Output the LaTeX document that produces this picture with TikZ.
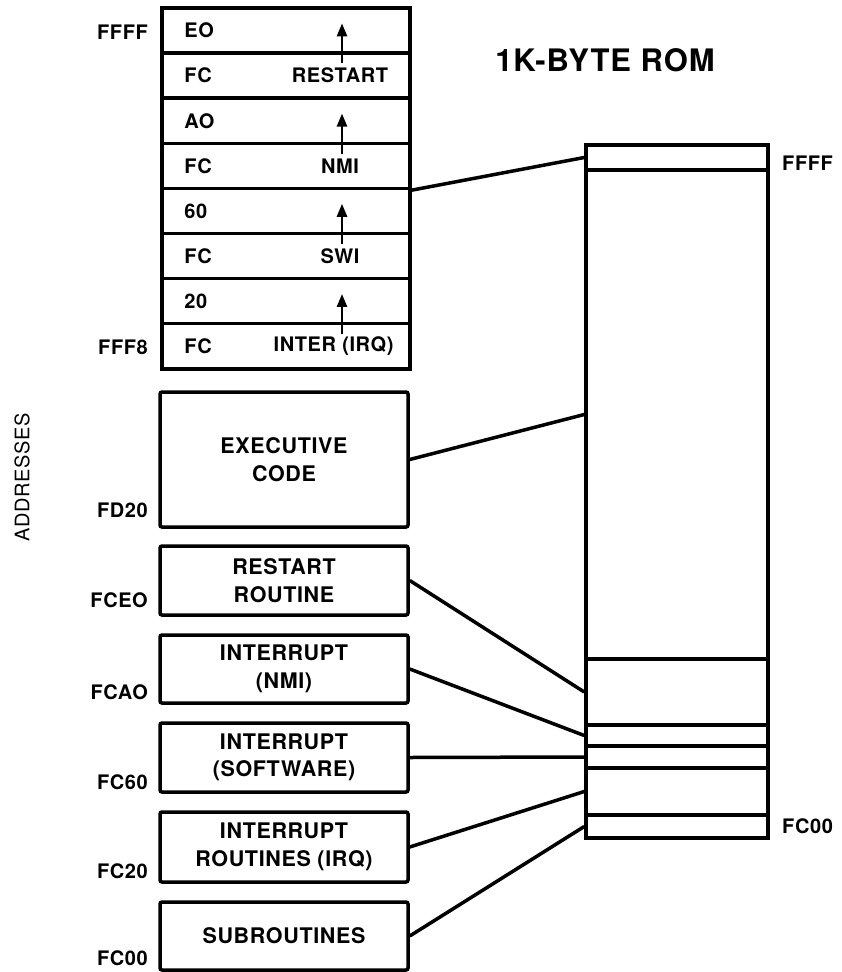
\documentclass[tikz,border=0pt]{standalone}
\usepackage{fontspec}
\setmainfont{TeX Gyre Heros}[LetterSpace=3]
\usetikzlibrary{arrows.meta,calc}

\begin{document}
\begin{tikzpicture}[x=1pt,y=-1pt,
  ln/.style={line width=3.5pt},
  cell/.style={draw, line width=3.5pt, minimum width=248pt, minimum height=45.1pt, inner sep=0pt},
  blk/.style={draw, line width=3.5pt, rounded corners=2pt, minimum width=248pt, align=center, inner sep=0pt, font=\bfseries\fontsize{21.5}{27.5}\selectfont},
  seg/.style={draw, line width=3.5pt, minimum width=182pt, inner sep=0pt},
  txt/.style={inner sep=0pt, font=\bfseries\fontsize{20}{22}\selectfont},
  adr/.style={inner sep=0pt, anchor=east, font=\bfseries\fontsize{20}{22}\selectfont},
  up/.style={line width=2.5pt, -{Triangle[length=13pt,width=10pt]}}
]
\useasboundingbox (0,0) rectangle (842,972);
\node[inner sep=0pt, font=\bfseries\fontsize{31}{36}\selectfont] (title) at (605,60) {1K-BYTE ROM};
\node[inner sep=0pt, rotate=90, font=\fontsize{20}{24}\selectfont] (addr) at (22,477) {ADDRESSES};
% vector table
\foreach \i/\v in {1/EO,2/FC,3/AO,4/FC,5/60,6/FC,7/20,8/FC}{
  \node[cell] (r\i) at (286,{8+45.1*(\i-0.5)}) {};
  \node[txt, anchor=west] (v\i) at ([xshift=24pt]r\i.west) {\v};
}
\node[txt] (n2) at ([xshift=54pt]r2.center) {RESTART};
\node[txt] (n4) at ([xshift=54pt]r4.center) {NMI};
\node[txt] (n6) at ([xshift=54pt]r6.center) {SWI};
\node[txt, anchor=east] (n8) at ([xshift=-18pt]r8.east) {INTER (IRQ)};
\foreach \i in {2,4,6,8} \draw[up] ([xshift=56pt,yshift=-12pt]r\i.north) -- ([xshift=56pt,yshift=28pt]r\i.north);
% program blocks
\node[blk, minimum height=135pt] (exe) at (284,459.5) {EXECUTIVE\\CODE};
\node[blk, minimum height=69pt] (rst) at (284,580.5) {RESTART\\ROUTINE};
\node[blk, minimum height=68pt] (nmi) at (284,669) {INTERRUPT\\(NMI)};
\node[blk, minimum height=69pt] (swi) at (284,757.5) {INTERRUPT\\(SOFTWARE)};
\node[blk, minimum height=70pt] (irq) at (284,847) {INTERRUPT\\ROUTINES (IRQ)};
\node[blk, minimum height=68pt] (sub) at (284,936) {SUBROUTINES};
% addresses
\node[adr] (aFFFF) at (148,32) {FFFF};
\node[adr] (aFFF8) at (148,347) {FFF8};
\node[adr] (aFD20) at (148,510) {FD20};
\node[adr] (aFCE0) at (148,600) {FCEO};
\node[adr] (aFCA0) at (148,692) {FCAO};
\node[adr] (aFC60) at (148,782) {FC60};
\node[adr] (aFC20) at (148,871) {FC20};
\node[adr] (aFC00) at (148,958) {FC00};
% rom map
\foreach \i/\c/\h in {1/157.5/25,2/414.5/489,3/692/66,4/735.5/21,5/757/22,6/791.5/47,7/826.5/23}
  \node[seg, minimum height=\h pt] (s\i) at (677,\c) {};
\node[adr, anchor=west] (rFFFF) at (782,163) {FFFF};
\node[adr, anchor=west] (rFC00) at (782,826) {FC00};
\draw[ln] (r4.south east) -- (s1.west);
\foreach \a/\b in {exe/s2,rst/s3,nmi/s4,swi/s5,irq/s6,sub/s7} \draw[ln] (\a.east) -- (\b.west);
\end{tikzpicture}
\end{document}
